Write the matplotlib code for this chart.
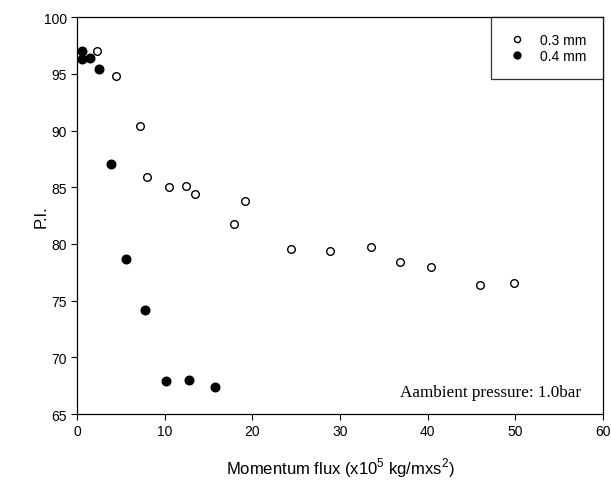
# P.I. vs momentum flux for two nozzle diameters

import numpy as np
import matplotlib.pyplot as plt

plt.rcParams['font.family'] = ['Liberation Sans', 'DejaVu Sans']
plt.rcParams['mathtext.fontset'] = 'custom'
plt.rcParams['mathtext.rm'] = 'Liberation Sans'

# 0.3 mm nozzle
flux03 = [2.3, 4.4, 7.2, 8.0, 10.5, 12.4, 13.4, 17.9, 19.2, 24.4, 28.8, 33.5, 36.9, 40.4, 46.0, 49.9]
pi03 = [97.0, 94.8, 90.4, 85.9, 85.0, 85.1, 84.4, 81.8, 83.8, 79.6, 79.4, 79.7, 78.4, 78.0, 76.4, 76.6]

# 0.4 mm nozzle
flux04 = [0.55, 0.55, 1.4, 2.5, 3.9, 5.6, 7.7, 10.1, 12.8, 15.7]
pi04 = [97.0, 96.3, 96.4, 95.4, 87.1, 78.7, 74.2, 67.9, 68.0, 67.4]

labels = ['0.3 mm', '0.4 mm']

fig = plt.figure(figsize=(6.11, 4.85), dpi=100)
ax = fig.add_axes([0.1265, 0.1443, 0.86, 0.818])

ax.plot(flux03, pi03, linewidth=0, marker='o', markersize=5.5, markerfacecolor='white',
        markeredgecolor='black', markeredgewidth=1.0, label=labels[0])
ax.plot(flux04, pi04, linewidth=0, marker='o', markersize=6.2, markerfacecolor='black',
        markeredgecolor='black', label=labels[1])

ax.set_xlim(0, 60)
ax.set_ylim(65, 100)
ax.set_xticks(np.arange(0, 61, 10))
ax.set_yticks(np.arange(65, 101, 5))
ax.tick_params(direction='out', length=4, width=0.8, labelsize=10, top=False, right=False)

for s in ax.spines.values():
    s.set_linewidth(0.9)

ax.set_xlabel(r'Momentum flux (x10$^5$ kg/mxs$^2$)', fontsize=12, labelpad=12)
ax.set_ylabel('P.I.', fontsize=12)
ax.yaxis.set_label_coords(-0.054, 0.5)

ax.text(0.959, 0.055, 'Aambient pressure: 1.0bar', transform=ax.transAxes, ha='right',
        va='center', fontsize=12.3, family='Liberation Serif')

leg = ax.legend(loc='upper right', borderaxespad=0, fancybox=False, edgecolor='black',
                fontsize=10, markerscale=0.8, handlelength=1.5, handletextpad=0.9,
                borderpad=1.15, labelspacing=0.12)
leg.get_frame().set_linewidth(0.9)

plt.savefig('out.png', dpi=100)
